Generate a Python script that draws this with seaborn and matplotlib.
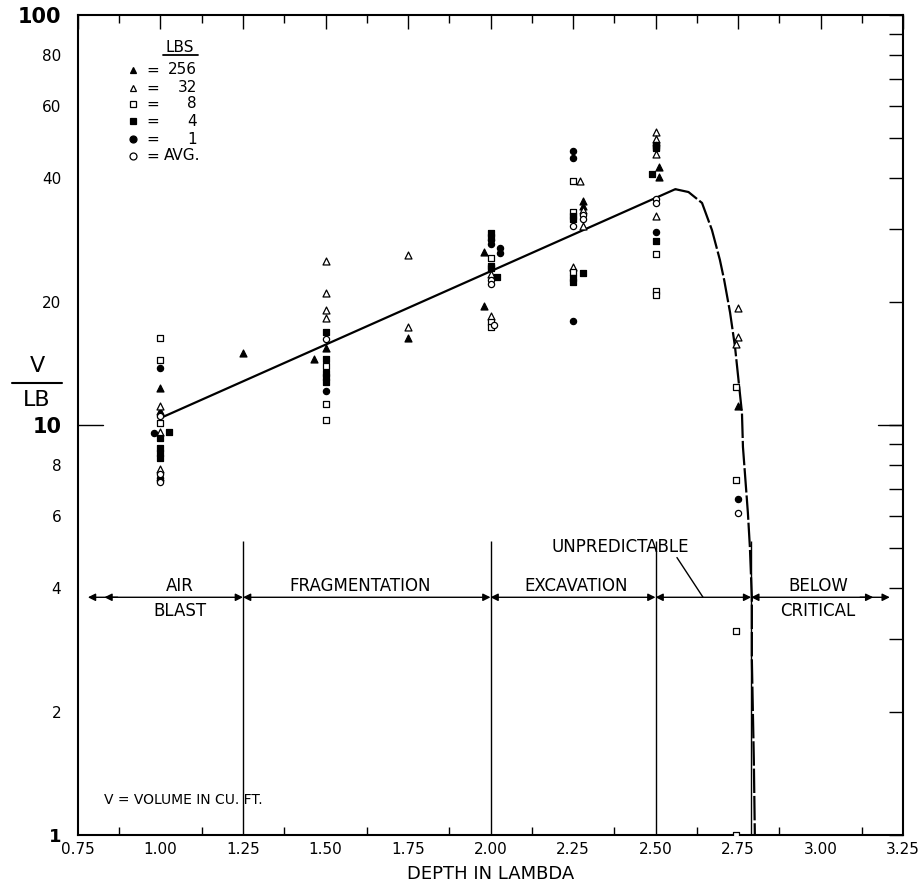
import numpy as np
import pandas as pd
import matplotlib
matplotlib.use("Agg")
import matplotlib.pyplot as plt
from matplotlib.ticker import FixedLocator, FixedFormatter, NullLocator
from matplotlib.lines import Line2D
import seaborn as sns

# ---- data ----
# 256 lb charges (filled triangles)
d256 = [1.00, 1.00, 1.25, 1.465, 1.50, 1.75, 1.98, 1.98, 2.28, 2.28, 2.51, 2.51, 2.75]
v256 = [12.3, 10.8, 15.0, 14.5, 15.4, 16.3, 26.4, 19.5, 35.2, 34.3, 42.6, 40.3, 11.1]
# 32 lb charges (open triangles)
d32 = [1.00, 1.00, 1.00, 1.00, 1.50, 1.50, 1.50, 1.50, 1.75, 1.75, 2.00, 2.00,
       2.27, 2.28, 2.28, 2.25, 2.50, 2.50, 2.50, 2.50, 2.75, 2.75, 2.745]
v32 = [11.1, 9.6, 7.8, 7.45, 25.1, 21.0, 19.1, 18.2, 26.0, 17.3, 23.3, 18.4,
       39.4, 33.4, 30.6, 24.3, 51.8, 49.8, 45.7, 32.3, 19.3, 16.4, 15.8]
# 8 lb charges (open squares)
d8 = [1.00, 1.00, 1.00, 1.50, 1.50, 1.50, 2.00, 2.00, 2.00, 2.25, 2.25, 2.25,
      2.50, 2.50, 2.50, 2.50, 2.745, 2.745, 2.745, 2.745]
v8 = [16.3, 14.4, 10.1, 13.9, 11.25, 10.3, 25.5, 17.8, 17.3, 39.4, 33.1, 23.6,
      48.2, 26.1, 21.2, 20.8, 12.4, 7.34, 3.15, 1.0]
# 4 lb charges (filled squares)
d4 = [1.025, 1.00, 1.00, 1.00, 1.00, 1.50, 1.50, 1.50, 1.50, 1.50, 2.00, 2.00,
      2.00, 2.00, 2.02, 2.25, 2.25, 2.25, 2.25, 2.28, 2.50, 2.49, 2.50, 2.50]
v4 = [9.6, 9.3, 8.8, 8.55, 8.3, 16.9, 14.5, 13.4, 13.1, 12.7, 29.4, 28.8,
      24.4, 24.2, 23.0, 32.4, 31.8, 22.8, 22.3, 23.5, 47.6, 41.0, 47.3, 28.1]
# 1 lb charges (filled circles)
d1 = [1.00, 0.98, 1.00, 1.50, 2.00, 2.00, 2.03, 2.03, 2.25, 2.25, 2.25, 2.50, 2.50, 2.75]
v1 = [13.8, 9.56, 7.43, 12.1, 28.3, 27.6, 27.0, 26.3, 46.6, 44.8, 17.9, 48.2, 29.6, 6.6]
# averages (open circles)
davg = [1.00, 1.00, 1.00, 1.50, 2.00, 2.00, 2.01, 2.28, 2.28, 2.25, 2.50, 2.50, 2.75]
vavg = [10.5, 7.6, 7.25, 16.2, 22.6, 22.1, 17.5, 32.5, 31.8, 30.6, 35.6, 34.8, 6.1]

# fitted straight line and the dashed fall-off curve
fit_x = [1.00, 2.56]
fit_y = [10.4, 37.6]
curve_x = [2.56, 2.60, 2.641, 2.671, 2.695, 2.708, 2.726, 2.741, 2.762, 2.765,
           2.780, 2.786, 2.792, 2.792, 2.798, 2.801]
curve_y = [37.6, 37.0, 34.8, 29.9, 25.3, 22.6, 18.8, 15.5, 10.7, 8.84,
           6.1, 5.04, 3.79, 2.67, 1.52, 1.0]

# zone boundaries
dividers = [1.25, 2.00, 2.50, 2.79]
zone_y = 3.8

groups = [
    ("256", d256, v256, "^", "black"),
    ("32", d32, v32, "^", "white"),
    ("8", d8, v8, "s", "white"),
    ("4", d4, v4, "s", "black"),
    ("1", d1, v1, "o", "black"),
    ("AVG.", davg, vavg, "o", "white"),
]

frames = [pd.DataFrame({"depth": d, "v": v, "lbs": name}) for name, d, v, _, _ in groups]
df = pd.concat(frames, ignore_index=True)

sns.set_theme(style="white")
plt.rcParams["font.family"] = ["DejaVu Sans"]
plt.rcParams["axes.linewidth"] = 1.5
plt.rcParams["text.color"] = "black"
plt.rcParams["axes.labelcolor"] = "black"
plt.rcParams["xtick.color"] = "black"
plt.rcParams["ytick.color"] = "black"

fig = plt.figure(figsize=(9.24, 8.86), dpi=100)
ax = fig.add_axes([78 / 924, 1 - 835 / 886, 825 / 924, 820 / 886])

for name, d, v, mk, fc in groups:
    sub = df[df["lbs"] == name]
    size = 20 if mk == "o" else 25
    sns.scatterplot(data=sub, x="depth", y="v", ax=ax, marker=mk, s=size,
                    color=fc, edgecolor="black", linewidth=0.9, zorder=4, legend=False)

sns.lineplot(x=fit_x, y=fit_y, ax=ax, color="black", lw=1.6, zorder=3)
ax.plot(curve_x, curve_y, color="black", lw=1.6, linestyle=(0, (11, 1.3)), zorder=3)

ax.set_yscale("log")
ax.set_xlim(0.75, 3.25)
ax.set_ylim(1, 100)

# ticks
ax.xaxis.set_major_locator(FixedLocator(np.arange(0.75, 3.26, 0.25)))
ax.xaxis.set_minor_locator(FixedLocator(np.arange(0.875, 3.25, 0.25)))
ax.set_xticklabels(["0.75", "1.00", "1.25", "1.50", "1.75", "2.00", "2.25",
                    "2.50", "2.75", "3.00", "3.25"])
yt = list(range(1, 10)) + list(range(10, 101, 10))
ylab = {1: "1", 2: "2", 4: "4", 6: "6", 8: "8", 10: "10", 20: "20", 40: "40",
        60: "60", 80: "80", 100: "100"}
ax.yaxis.set_major_locator(FixedLocator(yt))
ax.yaxis.set_minor_locator(NullLocator())
ax.yaxis.set_major_formatter(FixedFormatter([ylab.get(t, "") for t in yt]))
ax.tick_params(axis="both", which="major", direction="in", length=10, width=1,
               top=True, right=True, labelsize=11, colors="black")
ax.tick_params(axis="y", which="major", pad=12)
ax.tick_params(axis="x", which="major", pad=5)
ax.tick_params(axis="x", which="minor", direction="in", length=6, width=1,
               top=True, bottom=True)
for lbl in ax.get_yticklabels():
    if lbl.get_text() in ("10", "100"):
        lbl.set_fontsize(15)
        lbl.set_fontweight("bold")
    if lbl.get_text() == "1":
        lbl.set_fontsize(13)
        lbl.set_fontweight("bold")
ax.axhline(10, xmin=0, xmax=0.03, color="black", lw=1)
ax.axhline(10, xmin=0.97, xmax=1, color="black", lw=1)
for s in ax.spines.values():
    s.set_color("black")
ax.set_xlabel("DEPTH IN LAMBDA", fontsize=13, labelpad=6)
ax.set_ylabel("")

# V / LB label
fig.text(37 / 924, 1 - 366 / 886, "V", ha="center", va="center", fontsize=16)
fig.text(37 / 924, 1 - 400 / 886, "LB", ha="center", va="center", fontsize=16)
fig.add_artist(Line2D([12 / 924, 62 / 924], [1 - 383 / 886, 1 - 383 / 886],
                      color="black", lw=1.5))

# zone markings
ax.vlines(dividers, 1, 5.2, color="black", lw=1)
edges = [0.78] + dividers + [3.21]
for x0, x1 in zip(edges[:-1], edges[1:]):
    ax.annotate("", xy=(x1, zone_y), xytext=(x0, zone_y),
                arrowprops=dict(arrowstyle="<|-|>", color="black", lw=1,
                                mutation_scale=11, shrinkA=0, shrinkB=0))
ax.annotate("", xy=(0.83, zone_y), xytext=(0.87, zone_y),
            arrowprops=dict(arrowstyle="-|>", color="black", lw=1,
                            mutation_scale=11, shrinkA=0, shrinkB=0))
ax.annotate("", xy=(3.16, zone_y), xytext=(3.12, zone_y),
            arrowprops=dict(arrowstyle="-|>", color="black", lw=1,
                            mutation_scale=11, shrinkA=0, shrinkB=0))

zt = dict(ha="center", va="center", fontsize=12)
ax.text(1.059, 4.05, "AIR", **zt)
ax.text(1.059, 3.52, "BLAST", **zt)
ax.text(1.605, 4.05, "FRAGMENTATION", **zt)
ax.text(2.259, 4.05, "EXCAVATION", **zt)
ax.text(2.992, 4.05, "BELOW", **zt)
ax.text(2.992, 3.52, "CRITICAL", **zt)
ax.text(2.392, 5.05, "UNPREDICTABLE", **zt)
ax.plot([2.565, 2.644], [4.75, zone_y], color="black", lw=1)

# key in the upper-left corner
def ax_xy(px, py):
    return (px - 78) / 825, (835 - py) / 820

vx, vy = ax_xy(104, 800)
ax.text(vx, vy, "V = VOLUME IN CU. FT.", transform=ax.transAxes,
        ha="left", va="center", fontsize=10)

x_lbs, y_lbs = ax_xy(180, 47)
ax.text(x_lbs, y_lbs, "LBS", transform=ax.transAxes, ha="center", va="center", fontsize=11)
ax.plot([ax_xy(163, 0)[0], ax_xy(198, 0)[0]], [ax_xy(0, 55)[1]] * 2,
        transform=ax.transAxes, color="black", lw=1.3)
rows_y = [70, 88, 104, 121, 139, 156]
for (name, d, v, mk, fc), py in zip(groups, rows_y):
    mx, my = ax_xy(133, py)
    ax.plot([mx], [my], marker=mk, ms=5, mfc=fc, mec="black", mew=0.9,
            transform=ax.transAxes, linestyle="none")
    ex, _ = ax_xy(153, py)
    ax.text(ex, my, "=", transform=ax.transAxes, ha="center", va="center", fontsize=11)
    if name == "AVG.":
        ax.text(ax_xy(164, 0)[0], my, name, transform=ax.transAxes, ha="left",
                va="center", fontsize=11)
    else:
        ax.text(ax_xy(197, 0)[0], my, name, transform=ax.transAxes, ha="right",
                va="center", fontsize=11)

fig.savefig("out.png", dpi=100, facecolor="white")
